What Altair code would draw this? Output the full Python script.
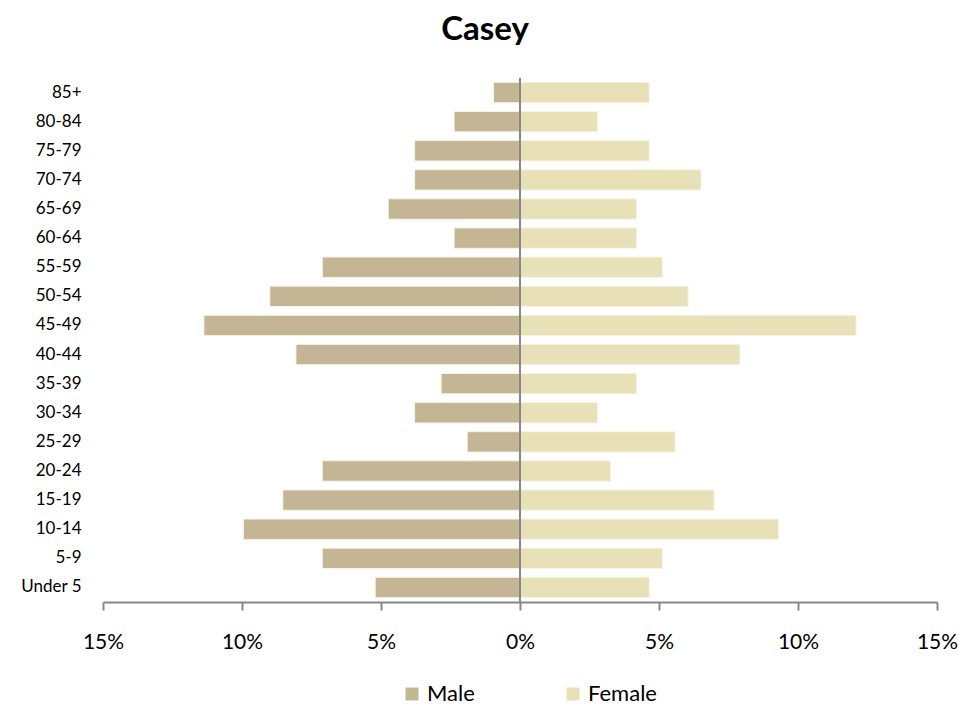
import altair as alt
import pandas as pd

ages = ["85+", "80-84", "75-79", "70-74", "65-69", "60-64", "55-59", "50-54", "45-49",
        "40-44", "35-39", "30-34", "25-29", "20-24", "15-19", "10-14", "5-9", "Under 5"]
male = [0.95, 2.37, 3.79, 3.79, 4.74, 2.37, 7.11, 9.00, 11.37,
        8.06, 2.84, 3.79, 1.90, 7.11, 8.53, 9.95, 7.11, 5.21]
female = [4.65, 2.79, 4.65, 6.51, 4.19, 4.19, 5.12, 6.05, 12.09,
          7.91, 4.19, 2.79, 5.58, 3.26, 6.98, 9.30, 5.12, 4.65]
sexes = ["Male", "Female"]
colors = ["#c4b594", "#e8e1b8"]
ticks = [-15, -10, -5, 0, 5, 10, 15]

rows = []
for a, m, f in zip(ages, male, female):
    rows.append({"age": a, "sex": "Male", "value": -m})
    rows.append({"age": a, "sex": "Female", "value": f})
df = pd.DataFrame(rows)

FONT = "Lato"

bars = alt.Chart(df).mark_bar(stroke="#f6f3e6", strokeWidth=1).encode(
    y=alt.Y("age:N", sort=ages,
            scale=alt.Scale(paddingInner=0.3, paddingOuter=0.15),
            axis=alt.Axis(title=None, domain=False, ticks=False, labelFontSize=17,
                          labelPadding=22, labelFont=FONT, labelColor="black")),
    x=alt.X("value:Q", scale=alt.Scale(domain=[-15, 15], nice=False),
            axis=alt.Axis(values=ticks, labelExpr="abs(datum.value) + '%'", title=None,
                          grid=False, domainColor="#888888", domainWidth=2,
                          tickColor="#888888", tickWidth=2, tickSize=8,
                          labelFontSize=21, labelPadding=21, labelColor="black",
                          labelFont=FONT, labelFlush=False, labelOverlap=False)),
    color=alt.Color("sex:N", scale=alt.Scale(domain=sexes, range=colors),
                    legend=alt.Legend(orient="none", legendX=298, legendY=605,
                                      direction="horizontal", title=None,
                                      symbolType="square", symbolSize=169,
                                      symbolStrokeWidth=0, labelFontSize=22,
                                      labelFont=FONT, labelColor="black",
                                      labelOffset=4, columnPadding=87, padding=0)),
)

zero = alt.Chart(pd.DataFrame({"x": [0]})).mark_rule(color="#888888", strokeWidth=2).encode(
    x=alt.X("x:Q")
)

chart = alt.layer(bars, zero).properties(
    width=834, height=524,
    title=alt.TitleParams("Casey", fontSize=33, font=FONT, fontWeight="bold",
                          color="black", dx=-35, offset=30),
    autosize=alt.AutoSizeParams(type="none"),
    padding={"left": 95, "top": 70, "right": 34, "bottom": 103},
    background="white",
).configure_view(stroke=None)

chart.save("out.html", embed_options={"renderer": "svg", "actions": False})
